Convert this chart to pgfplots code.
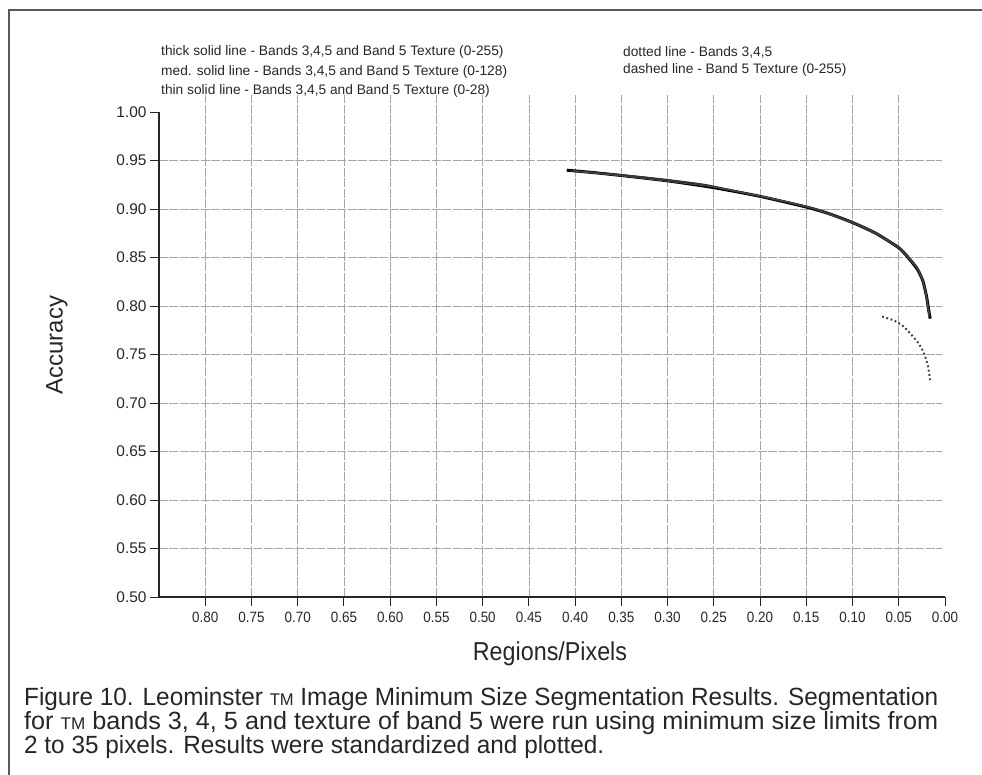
\documentclass[border=0pt]{standalone}
\usepackage{fontspec}
\setmainfont{Liberation Sans}
\newfontfamily\condfont[FakeStretch=0.9]{Liberation Sans}
\usepackage{graphicx}
\usepackage{pgfplots}
\pgfplotsset{compat=1.18}

\pgfplotstableread{
x y
0.409 0.940
0.380 0.9375
0.350 0.9345
0.300 0.929
0.250 0.922
0.200 0.913
0.150 0.902
0.125 0.895
0.100 0.886
0.075 0.875
0.050 0.860
0.040 0.850
0.030 0.838
0.024 0.826
0.020 0.810
0.018 0.798
0.016 0.787
}\thick

\pgfplotstableread{
x y
0.405 0.9395
0.350 0.9350
0.300 0.9300
0.260 0.9250
0.220 0.917
0.180 0.909
0.140 0.900
0.100 0.8865
0.075 0.8755
0.050 0.8605
0.040 0.8510
0.030 0.8395
0.025 0.829
0.021 0.815
0.019 0.803
0.017 0.790
}\med

\pgfplotstableread{
x y
0.400 0.9390
0.350 0.9340
0.300 0.9285
0.250 0.9225
0.200 0.9135
0.150 0.9025
0.100 0.8855
0.075 0.8745
0.050 0.8595
0.040 0.8495
0.030 0.8385
0.026 0.8305
0.022 0.818
0.019 0.802
0.017 0.789
}\thin

\pgfplotstableread{
x y
0.068 0.789
0.055 0.785
0.045 0.779
0.036 0.770
0.029 0.762
0.023 0.752
0.019 0.740
0.017 0.730
0.016 0.721
}\dotted

\begin{document}
\begin{tikzpicture}[x=1bp,y=1bp]
\useasboundingbox (0,0) rectangle (982,775);
\draw[line width=1.3bp, black!65] (9,0) -- (9,765) -- (982,765);

% legend text
\begin{scope}[every node/.style={anchor=west, inner sep=0pt, font=\fontsize{13.8}{15}\selectfont, text=black!85}]
\node at (161,723) {thick solid line - Bands 3,4,5 and Band 5 Texture (0-255)};
\node at (161,703) {med. solid line - Bands 3,4,5 and Band 5 Texture (0-128)};
\node at (161,684) {thin solid line - Bands 3,4,5 and Band 5 Texture (0-28)};
\node at (623,723) {dotted line - Bands 3,4,5};
\node at (623,705) {dashed line - Band 5 Texture (0-255)};
\end{scope}

\begin{axis}[
  at={(159bp,178bp)}, anchor=south west,
  scale only axis, width=786bp, height=485bp,
  x dir=reverse,
  xmin=0, xmax=0.85, ymin=0.5, ymax=1.0,
  xtick={0,0.05,0.10,0.15,0.20,0.25,0.30,0.35,0.40,0.45,0.50,0.55,0.60,0.65,0.70,0.75,0.80},
  xticklabels={0.00,0.05,0.10,0.15,0.20,0.25,0.30,0.35,0.40,0.45,0.50,0.55,0.60,0.65,0.70,0.75,0.80},
  ytick={0.50,0.55,0.60,0.65,0.70,0.75,0.80,0.85,0.90,0.95,1.00},
  yticklabels={0.50,0.55,0.60,0.65,0.70,0.75,0.80,0.85,0.90,0.95,1.00},
  axis line style={draw=none},
  tick align=outside, major tick length=9bp,
  xtick pos=bottom, ytick pos=left,
  tick style={black!85, line width=0.9bp},
  xticklabel style={font=\condfont\fontsize{15}{15}\selectfont, text=black!85, yshift=-3bp},
  yticklabel style={font=\fontsize{15.5}{15}\selectfont, text=black!85},
  clip=false,
]
% grid
\pgfplotsinvokeforeach{0.05,0.10,0.15,0.20,0.25,0.30,0.35,0.40,0.45,0.50,0.55,0.60,0.65,0.70,0.75,0.80}{
  \draw[gray!70, line width=0.7bp, dash pattern=on 9bp off 1.5bp] (axis cs:#1,0.5) -- (axis cs:#1,1.018);
}
\pgfplotsinvokeforeach{0.55,0.60,0.65,0.70,0.75,0.80,0.85,0.90,0.95}{
  \draw[gray!70, line width=0.7bp, dash pattern=on 9bp off 1.5bp] (axis cs:0.85,#1) -- (axis cs:0.003,#1);
}
\draw[black!85, line width=1.3bp] (axis cs:0.85,1.0) -- (axis cs:0.85,0.5) -- (axis cs:0,0.5);

\addplot[black, line width=3bp, smooth, tension=0.4] table[x=x,y=y] {\thick};
\addplot[black!80, line width=1.8bp, smooth, tension=0.4] table[x=x,y=y] {\med};
\addplot[black!70, line width=0.8bp, smooth, tension=0.4] table[x=x,y=y] {\thin};
\addplot[black!75, line width=2bp, dash pattern=on 1.8bp off 2.6bp, smooth, tension=0.4] table[x=x,y=y] {\dotted};
\end{axis}

% axis titles
\node[rotate=90, font=\fontsize{24}{24}\selectfont, text=black!85] at (57,430) {Accuracy};
\node[font=\condfont\fontsize{26}{26}\selectfont, text=black!85] at (550,121) {Regions/Pixels};

% caption
\begin{scope}[every node/.style={anchor=base west, inner sep=0pt, text=black!85}]
\node at (24,69) {\resizebox{914bp}{\height}{\fontsize{25}{25}\selectfont Figure 10. Leominster {\fontsize{17}{17}\selectfont TM} Image Minimum Size Segmentation Results. Segmentation}};
\node at (24,45) {\resizebox{914bp}{\height}{\fontsize{25}{25}\selectfont for {\fontsize{17}{17}\selectfont TM} bands 3, 4, 5 and texture of band 5 were run using minimum size limits from}};
\node at (24,21) {\resizebox{580bp}{\height}{\fontsize{25}{25}\selectfont 2 to 35 pixels. Results were standardized and plotted.}};
\end{scope}
\end{tikzpicture}
\end{document}
